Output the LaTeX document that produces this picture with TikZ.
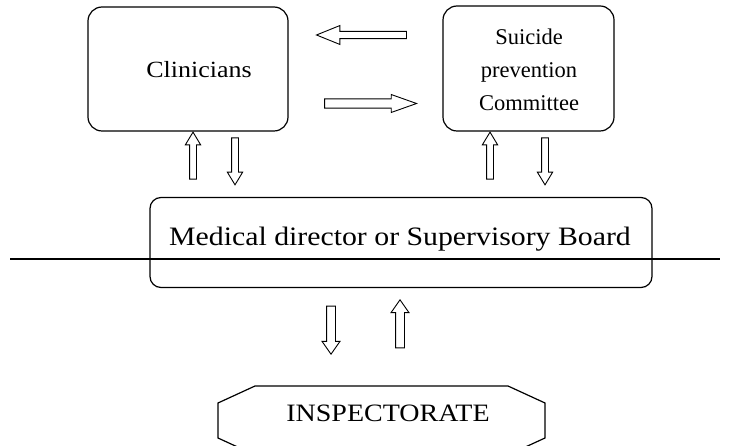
\documentclass[tikz,border=0pt]{standalone}
\usepackage{fontspec}
\setmainfont{Liberation Serif}
\newfontfamily\widefont[FakeStretch=1.12]{Liberation Serif}
\usetikzlibrary{shapes.arrows}
\begin{document}
\begin{tikzpicture}[x=1pt,y=-1pt,
  box/.style={draw,line width=1.2pt,rounded corners=14pt,inner sep=0pt},
  lbl/.style={inner sep=0pt,align=center},
  barrow/.style={single arrow,draw,line width=0.9pt,inner xsep=0pt,minimum width=1pt},
  harrowA/.style={barrow,inner ysep=3.2pt,single arrow head extend=5.8pt,single arrow tip angle=44},
  harrowB/.style={barrow,inner ysep=4.2pt,single arrow head extend=4.3pt,single arrow tip angle=39},
  varrowA/.style={barrow,minimum height=47pt,inner ysep=3pt,single arrow head extend=4.2pt,single arrow tip angle=62},
  varrowB/.style={barrow,minimum height=48pt,inner ysep=4pt,single arrow head extend=4.5pt,single arrow tip angle=70}]
\useasboundingbox (0,0) rectangle (729,446);
% boxes
\node[box,minimum width=200pt,minimum height=124pt] (clin) at (188,69) {};
\node[lbl,font=\widefont\fontsize{23.2}{30}\selectfont] (clintext) at (199,70) {Clinicians};
\node[box,minimum width=171pt,minimum height=125pt] (spc) at (528.5,68.5) {};
\node[lbl,font=\fontsize{22.5}{33}\selectfont] (spctext) at (529,70) {Suicide\\prevention\\Committee};
\node[box,rounded corners=11pt,minimum width=502pt,minimum height=90pt] (med) at (401,242.5) {};
\node[lbl,font=\widefont\fontsize{26.6}{30}\selectfont] (medtext) at (400,239) {Medical director or Supervisory Board};
% line
\coordinate (lineL) at (10,259);
\coordinate (lineR) at (720,259);
\draw[line width=1.2pt] (lineL) -- (lineR);
% inspectorate
\draw[line width=1.2pt] (255,386) -- (508,386) -- (545,403) -- (545,438) -- (508,455)
  -- (255,455) -- (218,438) -- (218,403) -- cycle;
\node[lbl,font=\widefont\fontsize{25}{30}\selectfont] (insptext) at (388,413) {INSPECTORATE};
% horizontal arrows
\node[harrowA,minimum height=90pt,rotate=180] (a1) at (366,35) {};
\node[harrowB,minimum height=92pt] (a2) at (364,103.5) {};
% vertical arrows
\node[varrowA,rotate=90] (u1) at (193,158.5) {};
\node[varrowA,rotate=-90] (d1) at (235,158.5) {};
\node[varrowA,rotate=90] (u2) at (490,158.5) {};
\node[varrowA,rotate=-90] (d2) at (545,158.5) {};
\node[varrowB,rotate=-90] (d3) at (331,327) {};
\node[varrowB,rotate=90] (u3) at (400,327) {};
\end{tikzpicture}
\end{document}
